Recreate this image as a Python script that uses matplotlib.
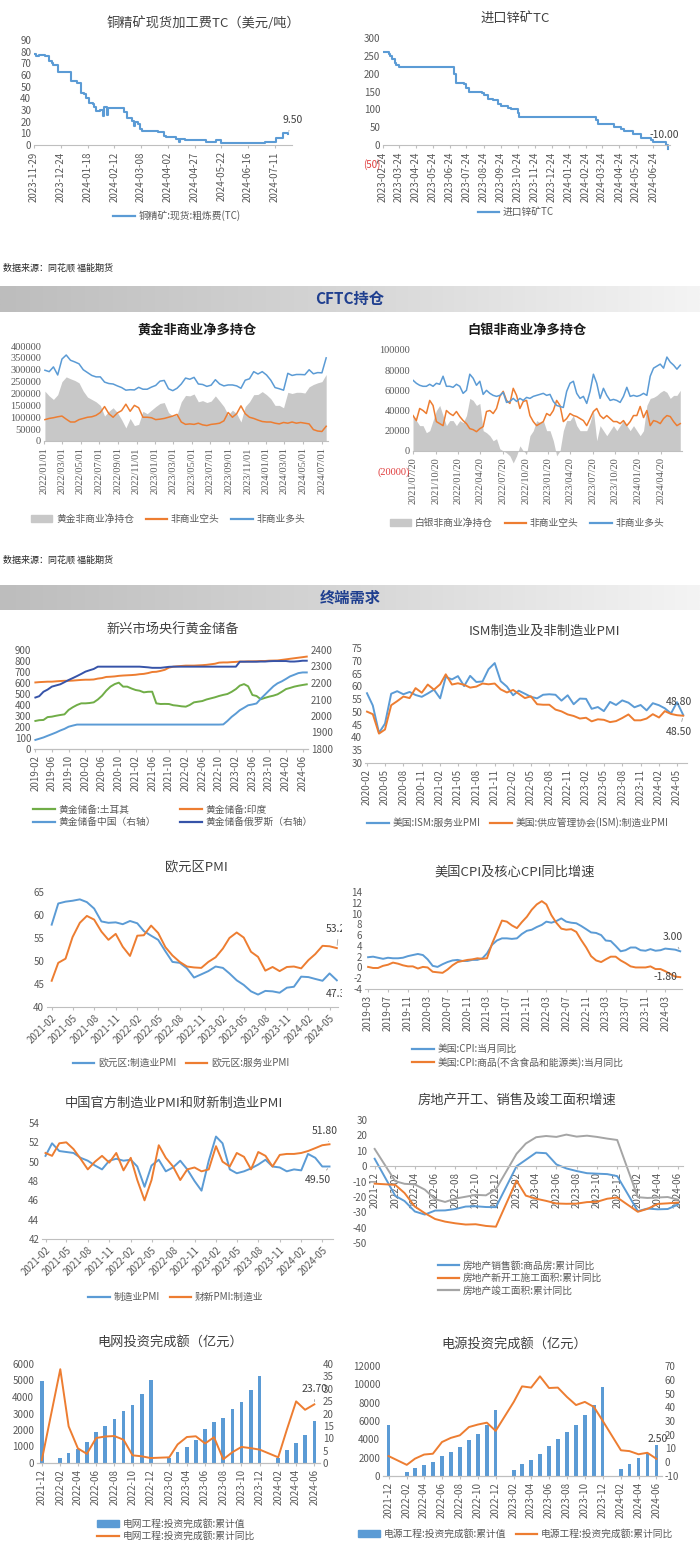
import matplotlib
matplotlib.use("Agg")
import matplotlib.pyplot as plt
from matplotlib.lines import Line2D
from matplotlib.patches import Patch
from matplotlib.colors import LinearSegmentedColormap
from matplotlib.transforms import Bbox
import numpy as np
import pandas as pd


# ── data ──────────────────────────────────────────────────────────────────────
# copper concentrate spot TC: days after start where the quote changed, new value
cu_start = "2023-11-29"
cu_days = [0, 2, 5, 10, 14, 17, 18, 22, 35, 40, 44, 47, 49, 51, 55, 56, 58, 62, 64, 65,
           68, 69, 84, 87, 92, 93, 94, 97, 99, 101, 116, 121, 123, 133, 135, 136, 141,
           161, 170, 175, 216, 226, 233, 237]
cu_tc = [78, 76, 77, 76, 72, 70, 69, 63, 55, 53, 45, 44, 40, 36, 35, 33, 29, 30, 25, 33,
         26, 32, 28, 23, 21, 16, 20, 18, 14, 12, 11, 8, 7, 5, 3, 5, 4,
         3, 4, 2, 3, 6, 10, 9.5]

# imported zinc concentrate TC
zn_start = "2023-02-24"
zn_days = [0, 10, 13, 17, 21, 24, 29, 128, 131, 146, 149, 154, 178, 182, 188, 198, 206,
           212, 224, 230, 242, 245, 383, 386, 416, 428, 434, 449, 464, 482, 485, 509, 513]
zn_tc = [260, 255, 250, 240, 230, 225, 220, 200, 175, 170, 160, 150, 145, 140, 130, 125, 115,
         110, 105, 100, 90, 80, 70, 60, 50, 45, 40, 30, 20, 15, 10, 0, -10]

# CFTC gold non-commercial positions (thousand contracts, ~2-week samples)
gold_long = [298, 292, 312, 278, 345, 362, 340, 333, 325, 300, 288, 276, 270, 270, 248, 242,
             240, 232, 225, 214, 216, 215, 226, 218, 218, 227, 234, 252, 255, 220, 212, 222,
             240, 265, 260, 268, 240, 238, 230, 235, 258, 240, 232, 236, 236, 232, 222, 256,
             262, 292, 282, 292, 278, 256, 225, 220, 214, 285, 276, 280, 280, 279, 300, 283,
             288, 287, 350]
gold_short = [90, 95, 98, 102, 105, 92, 80, 80, 90, 95, 100, 102, 108, 120, 145, 115, 100, 118,
              128, 155, 125, 150, 140, 100, 100, 98, 90, 92, 95, 100, 105, 112, 80, 70, 72, 70,
              75, 68, 65, 70, 72, 75, 85, 120, 100, 115, 148, 115, 100, 95, 88, 82, 80, 80, 75,
              72, 78, 75, 80, 75, 78, 75, 72, 48, 42, 40, 62]
gold_net = [210, 190, 175, 195, 250, 270, 262, 255, 245, 210, 185, 175, 165, 150, 105, 125,
            140, 120, 90, 55, 95, 65, 70, 125, 115, 130, 145, 158, 162, 120, 105, 110, 165,
            192, 190, 198, 165, 170, 162, 168, 190, 168, 145, 110, 130, 115, 80, 145, 165,
            195, 196, 208, 195, 178, 150, 150, 140, 205, 200, 205, 205, 202, 228, 238, 245,
            250, 280]

# CFTC silver non-commercial positions (thousand contracts)
silver_long = [70, 67, 65, 64, 64, 66, 64, 67, 66, 74, 64, 64, 63, 66, 64, 57, 60, 76, 72, 65,
               69, 56, 60, 57, 55, 54, 55, 58, 48, 49, 52, 49, 52, 50, 53, 52, 54, 55, 56, 57,
               55, 56, 49, 45, 44, 43, 59, 67, 69, 57, 52, 54, 47, 59, 76, 67, 52, 62, 55, 50,
               51, 50, 48, 54, 63, 54, 55, 54, 55, 57, 55, 74, 82, 84, 86, 82, 93, 88, 85, 81, 85]
silver_short = [35, 30, 42, 40, 37, 50, 45, 29, 27, 25, 40, 37, 35, 39, 34, 30, 27, 22, 21, 19,
                22, 24, 39, 40, 37, 42, 54, 59, 50, 47, 62, 55, 42, 49, 50, 35, 29, 25, 27, 29,
                37, 35, 40, 50, 45, 29, 32, 37, 35, 34, 32, 30, 25, 32, 39, 42, 35, 32, 35, 32,
                29, 29, 27, 30, 25, 29, 35, 35, 44, 33, 40, 25, 30, 29, 27, 32, 35, 34, 29, 25, 27]
silver_net = [35, 30, 25, 25, 18, 20, 30, 40, 45, 35, 25, 30, 30, 25, 30, 28, 35, 52, 50, 45,
              47, 20, 18, 15, 10, 12, 2, 0, -2, -5, -12, -5, 5, 0, -3, 15, 20, 30, 28, 30,
              20, 20, 10, -5, 0, 20, 30, 30, 35, 25, 20, 20, 20, 28, 40, 10, 25, 20, 15, 20,
              25, 20, 25, 30, 25, 20, 25, 20, 15, 20, 45, 52, 53, 55, 58, 60, 58, 52, 55, 55, 60]

# emerging market central bank gold reserves (tonnes), monthly 2019-02 .. 2024-07
em_turkey = [255, 262, 264, 290, 294, 302, 309, 315, 355, 380, 400,
             415, 415, 418, 424, 450, 485, 530, 567, 590, 603, 567, 567,
             550, 536, 530, 515, 520, 521, 415, 409, 410, 409, 398, 394,
             388, 385, 400, 424, 430, 436, 450, 460, 470, 482, 492, 500,
             520, 545, 576, 590, 570, 491, 482, 452, 465, 476, 485, 497,
             520, 545, 555, 567, 575, 582, 588]
em_india = [605, 608, 610, 612, 612, 615, 618, 620, 620, 622, 625,
            628, 630, 630, 632, 640, 645, 655, 657, 660, 665, 668, 670,
            672, 675, 680, 683, 690, 700, 702, 710, 720, 740, 748, 752,
            755, 758, 758, 758, 760, 762, 765, 770, 775, 785, 787, 787,
            790, 792, 795, 795, 797, 797, 798, 800, 800, 803, 804, 805,
            810, 815, 820, 825, 830, 835, 840]
em_china = [1855, 1862, 1870, 1880, 1890, 1900, 1912, 1922, 1935, 1942, 1948,
            1948, 1948, 1948, 1948, 1948, 1948, 1948, 1948, 1948, 1948, 1948, 1948,
            1948, 1948, 1948, 1948, 1948, 1948, 1948, 1948, 1948, 1948, 1948, 1948,
            1948, 1948, 1948, 1948, 1948, 1948, 1948, 1948, 1948, 1948, 1949, 1970,
            1995, 2015, 2035, 2050, 2065, 2070, 2076, 2105, 2130, 2155, 2180, 2198,
            2210, 2225, 2240, 2250, 2260, 2264, 2264]
em_russia = [2112, 2120, 2147, 2160, 2178, 2185, 2192, 2205, 2218, 2230, 2242,
             2255, 2269, 2277, 2285, 2299, 2299, 2299, 2299, 2299, 2299, 2299, 2299,
             2299, 2299, 2299, 2297, 2295, 2292, 2292, 2292, 2295, 2298, 2299, 2299,
             2299, 2299, 2299, 2299, 2299, 2299, 2299, 2299, 2299, 2299, 2299, 2299,
             2299, 2299, 2329, 2329, 2329, 2329, 2329, 2330, 2330, 2332, 2333, 2333,
             2333, 2333, 2330, 2330, 2332, 2335, 2335]

# US ISM PMI, monthly 2020-02 .. 2024-06
ism_services = [57.3, 52.5, 41.8, 45.4, 57.1, 58.1, 56.9, 57.8, 56.6, 55.9, 57.2,
                58.7, 55.3, 63.7, 62.7, 64.0, 60.1, 64.1, 61.7, 61.9, 66.7, 69.1, 62.0,
                59.9, 56.5, 58.3, 57.1, 55.9, 55.3, 56.7, 56.9, 56.7, 54.4, 56.5, 53.0,
                55.2, 55.1, 51.2, 51.9, 50.3, 53.9, 52.7, 54.5, 53.6, 51.8, 52.7, 50.6,
                53.4, 52.6, 51.4, 49.4, 53.8, 48.8]
ism_mfg = [50.1, 49.1, 41.5, 43.1, 52.6, 54.2, 56.0, 55.4, 59.3, 57.5, 60.7,
           58.7, 60.8, 64.7, 60.7, 61.2, 60.6, 59.5, 59.9, 61.1, 60.8, 61.1, 58.8,
           57.6, 58.6, 57.1, 55.4, 56.1, 53.0, 52.8, 52.8, 50.9, 50.2, 49.0, 48.4,
           47.4, 47.7, 46.3, 47.1, 46.9, 46.0, 46.4, 47.6, 49.0, 46.7, 46.7, 47.4,
           49.1, 47.8, 50.3, 49.2, 48.7, 48.5]

# euro area PMI, monthly 2021-02 .. 2024-06
eu_mfg = [57.9, 62.5, 62.9, 63.1, 63.4, 62.8, 61.4, 58.6, 58.3, 58.4, 58.0,
          58.7, 58.2, 56.5, 55.5, 54.6, 52.1, 49.8, 49.6, 48.4, 46.4, 47.1, 47.8,
          48.8, 48.5, 47.3, 45.8, 44.8, 43.4, 42.7, 43.5, 43.4, 43.1, 44.2, 44.4,
          46.6, 46.5, 46.1, 45.7, 47.3, 45.8]
eu_services = [45.7, 49.6, 50.5, 55.2, 58.3, 59.8, 59.0, 56.4, 54.6, 55.9, 53.1,
               51.1, 55.5, 55.6, 57.7, 56.1, 53.0, 51.2, 49.8, 48.8, 48.6, 48.5, 49.8,
               50.8, 52.7, 55.0, 56.2, 55.1, 52.0, 50.9, 47.9, 48.7, 47.8, 48.7, 48.8,
               48.4, 50.2, 51.5, 53.3, 53.2, 52.8]

# US CPI yoy, monthly 2019-03 .. 2024-06
us_cpi = [1.9, 2.0, 1.8, 1.6, 1.8, 1.7, 1.7, 1.8, 2.1, 2.3,
          2.5, 2.3, 1.5, 0.3, 0.1, 0.6, 1.0, 1.3, 1.4, 1.2, 1.2, 1.4,
          1.4, 1.7, 2.6, 4.2, 5.0, 5.4, 5.4, 5.3, 5.4, 6.2, 6.8, 7.0,
          7.5, 7.9, 8.5, 8.3, 8.6, 9.1, 8.5, 8.3, 8.2, 7.7, 7.1, 6.5,
          6.4, 6.0, 5.0, 4.9, 4.0, 3.0, 3.2, 3.7, 3.7, 3.2, 3.1, 3.4,
          3.1, 3.2, 3.5, 3.4, 3.3, 3.0]
us_core_goods = [0.1, -0.1, -0.1, 0.3, 0.5, 0.9, 0.7, 0.4, 0.2, 0.2,
                 -0.2, 0.1, 0.0, -0.8, -0.9, -1.0, -0.4, 0.4, 1.0, 1.2, 1.4, 1.5,
                 1.7, 1.6, 1.7, 4.4, 6.5, 8.7, 8.5, 7.8, 7.3, 8.4, 9.4, 10.7,
                 11.7, 12.3, 11.7, 9.7, 8.3, 7.2, 7.0, 7.1, 6.6, 5.1, 3.7, 2.1,
                 1.3, 1.0, 1.5, 2.0, 2.0, 1.3, 0.8, 0.2, 0.0, 0.0, 0.0, 0.2,
                 -0.3, -0.3, -0.7, -1.2, -1.7, -1.8]

# China official and Caixin manufacturing PMI, monthly 2021-02 .. 2024-06
cn_pmi = [50.6, 51.9, 51.1, 51.0, 50.9, 50.4, 50.1, 49.6, 49.2, 50.1, 50.3,
          50.1, 50.2, 49.5, 47.4, 49.6, 50.2, 49.0, 49.4, 50.1, 49.2, 48.0, 47.0,
          50.1, 52.6, 51.9, 49.2, 48.8, 49.0, 49.3, 49.7, 50.2, 49.5, 49.4, 49.0,
          49.2, 49.1, 50.8, 50.4, 49.5, 49.5]
caixin_pmi = [50.9, 50.6, 51.9, 52.0, 51.3, 50.3, 49.2, 50.0, 50.6, 49.9, 50.9,
              49.1, 50.4, 48.1, 46.0, 48.1, 51.7, 50.4, 49.5, 48.1, 49.2, 49.4, 49.0,
              49.2, 51.6, 50.0, 49.5, 50.9, 50.5, 49.2, 51.0, 50.6, 49.5, 50.7, 50.8,
              50.8, 50.9, 51.1, 51.4, 51.7, 51.8]

# cumulative monthly series (no January release)
cn_months = ["2021-12",
             "2022-02", "2022-03", "2022-04", "2022-05", "2022-06", "2022-07", "2022-08",
             "2022-09", "2022-10", "2022-11", "2022-12",
             "2023-02", "2023-03", "2023-04", "2023-05", "2023-06", "2023-07", "2023-08",
             "2023-09", "2023-10", "2023-11", "2023-12",
             "2024-02", "2024-03", "2024-04", "2024-05", "2024-06"]
re_sales = [4.8, -19.3, -22.7, -29.5, -31.5, -28.9, -28.8, -27.9, -26.3, -26.1, -26.6, -26.7,
            -0.1, 4.1, 8.8, 8.4, 1.1, -1.5, -3.2, -4.6, -4.9, -5.2, -6.5,
            -29.3, -27.6, -28.1, -27.9, -25.0]
re_starts = [-11.4, -12.2, -17.5, -26.3, -30.6, -34.4, -36.1, -37.2, -38.0, -37.8, -38.9, -39.4,
             -9.4, -19.2, -21.2, -22.6, -24.3, -24.5, -24.4, -23.4, -23.2, -21.2, -20.4,
             -29.7, -27.8, -24.6, -24.2, -23.7]
re_completed = [11.2, -9.8, -11.5, -11.9, -15.3, -21.5, -23.3, -21.1, -19.9, -18.7, -19.0, -15.0,
                8.0, 14.7, 18.8, 19.6, 19.0, 20.5, 19.2, 19.8, 19.0, 17.9, 17.0,
                -20.2, -20.7, -20.4, -20.1, -21.8]
grid_value = [4951, 310, 610, 870, 1270, 1900, 2250, 2680, 3150, 3500, 4210, 5012,
              290, 670, 1000, 1400, 2050, 2470, 2700, 3280, 3720, 4450, 5275,
              330, 790, 1240, 1710, 2540]
grid_yoy = [1.1, 37.9, 14.8, 5.9, 3.7, 10.1, 10.7, 10.9, 9.4, 3.1, 2.7, 2.0,
            2.3, 7.5, 10.5, 10.8, 7.9, 10.4, 1.5, 4.4, 6.5, 6.0, 5.4,
            2.3, 13.5, 24.9, 21.5, 23.7]
power_value = [5530, 450, 830, 1200, 1500, 2150, 2590, 3190, 3920, 4600, 5570, 7200,
               630, 1270, 1780, 2380, 3300, 4000, 4750, 5540, 6650, 7700, 9700,
               750, 1350, 1920, 2560, 3400]
power_yoy = [4.5, -1.9, 2.6, 5.6, 6.2, 14.7, 17.7, 19.6, 25.6, 27.4, 28.8, 22.8,
             44.0, 55.2, 54.3, 62.5, 54.0, 54.3, 47.5, 41.6, 43.9, 40.2, 30.1,
             8.7, 8.1, 5.8, 6.9, 2.5]


# ── figure set-up ─────────────────────────────────────────────────────────────
plt.rcParams["font.family"] = ["Noto Sans CJK SC", "DejaVu Sans"]
plt.rcParams["axes.unicode_minus"] = False

W, H = 700, 1554
fig = plt.figure(figsize=(W / 100, H / 100), dpi=100)

TXT = "#595959"
DARK = "#404040"
BLUE = "#5b9bd5"
ORANGE = "#ed7d31"
GRAY = "#a5a5a5"
GREEN = "#70ad47"
NAVY = "#3653a8"
SERIF = ["Liberation Serif", "DejaVu Serif"]


def px_axes(l, t, r, b):
    # axes placed by pixel box (left, top, right, bottom) measured from the top
    return fig.add_axes([l / W, 1 - b / H, (r - l) / W, (b - t) / H])


def style(ax, size=6.5):
    for s in ("top", "right", "left"):
        ax.spines[s].set_visible(False)
    ax.spines["bottom"].set_color("#bfbfbf")
    ax.spines["bottom"].set_linewidth(0.8)
    ax.tick_params(axis="y", length=0, labelsize=size, labelcolor=TXT, pad=2)
    ax.tick_params(axis="x", length=2.5, color="#bfbfbf", labelsize=size, labelcolor=TXT, pad=2)
    ax.set_facecolor("none")


def date_ticks(ax, ticks, fmt, rot=90):
    ax.set_xticks(ticks)
    if rot == 90:
        ax.set_xticklabels([t.strftime(fmt) for t in ticks], rotation=90, ha="center")
    else:
        ax.set_xticklabels([t.strftime(fmt) for t in ticks], rotation=rot, ha="right",
                           rotation_mode="anchor")


def serif_ticks(ax, size=7.5):
    for lab in ax.get_xticklabels() + ax.get_yticklabels():
        lab.set_family(SERIF)
        lab.set_fontsize(size)


def title(text, cx, cy, bold=False, color=DARK):
    fig.text(cx / W, 1 - cy / H, text, ha="center", va="center", fontsize=9.5,
             color=color, fontweight="bold" if bold else "normal")


def legend(handles, labels, cx, cy, ncol=1, **kw):
    opts = dict(loc="center", bbox_to_anchor=(cx / W, 1 - cy / H), ncol=ncol, frameon=False,
                fontsize=7, labelcolor=TXT, handlelength=2.2, handletextpad=0.4,
                columnspacing=1.2, borderpad=0, labelspacing=0.25)
    opts.update(kw)
    fig.legend(handles, labels, **opts)


def tag(ax, x, y, text, tx, ty, line=True, clip=None):
    t = ax.annotate(text, xy=(x, y), xytext=(tx, H - ty), textcoords="figure pixels",
                    ha="center", va="center", fontsize=7.5, color=DARK,
                    arrowprops=dict(arrowstyle="-", color="#a0a0a0", lw=0.6) if line else None)
    if clip is not None:
        t.set_clip_box(Bbox.from_extents(0, 0, clip, H))
        t.set_clip_on(True)


def banner(text, top, bottom):
    bax = px_axes(0, top, W, bottom)
    grad = np.linspace(0, 1, 256).reshape(1, -1)
    cmap = LinearSegmentedColormap.from_list("band", ["#bdbdbd", "#d6d6d6", "#f4f4f4"])
    bax.imshow(grad, aspect="auto", cmap=cmap, extent=[0, 1, 0, 1])
    bax.axis("off")
    bax.text(0.5, 0.5, text, ha="center", va="center", fontsize=11, fontweight="bold",
             color="#1f3f8f", transform=bax.transAxes)


def line_h(color):
    return Line2D([], [], color=color, lw=1.6)


# ── row 1: copper and zinc treatment charges ─────────────────────────────────
ax = px_axes(34, 40, 292, 145)
style(ax, 7)
cu_x = pd.Timestamp(cu_start) + pd.to_timedelta(cu_days, unit="D")
ax.plot(cu_x, cu_tc, drawstyle="steps-post", color=BLUE, lw=1.5)
ax.set_ylim(0, 90)
ax.set_yticks(range(0, 91, 10))
ax.set_xlim(pd.Timestamp(cu_start), pd.Timestamp(cu_start) + pd.Timedelta(days=241))
date_ticks(ax, pd.date_range(cu_start, periods=10, freq="25D"), "%Y-%m-%d")
tag(ax, cu_x[-1], cu_tc[-1], "9.50", 293, 120)
title("铜精矿现货加工费TC（美元/吨）", 203, 23)
legend([line_h(BLUE)], ["铜精矿:现货:粗炼费(TC)"], 177, 216)

ax = px_axes(383, 38, 670, 163)
style(ax, 7)
zn_x = pd.Timestamp(zn_start) + pd.to_timedelta(zn_days, unit="D")
ax.plot(zn_x, zn_tc, drawstyle="steps-post", color=BLUE, lw=1.5)
ax.set_ylim(-50, 300)
ax.set_yticks(range(-50, 301, 50))
ax.set_yticklabels(["(50)"] + [str(v) for v in range(0, 301, 50)])
ax.get_yticklabels()[0].set_color("#e03c3c")
ax.spines["bottom"].set_position(("data", 0))
ax.set_xlim(pd.Timestamp(zn_start), pd.Timestamp(zn_start) + pd.Timedelta(days=516))
date_ticks(ax, pd.date_range(zn_start, "2024-06-24", freq=pd.DateOffset(months=1)), "%Y-%m-%d")
tag(ax, zn_x[-1], zn_tc[-1], "-10.00", 664, 135)
title("进口锌矿TC", 515, 18)
legend([line_h(BLUE)], ["进口锌矿TC"], 516, 212)

fig.text(3 / W, 1 - 268 / H, "数据来源：同花顺 福能期货", ha="left", va="center", fontsize=6.5,
         color="#262626")
banner("CFTC持仓", 286, 312)


# ── row 2: CFTC gold and silver ──────────────────────────────────────────────
gold_x = pd.date_range("2022-01-04", "2024-07-16", periods=len(gold_long))
ax = px_axes(44, 346, 328, 441)
style(ax, 6.5)
ax.fill_between(gold_x, 0, np.array(gold_net) * 1000, color="#c8c8c8", lw=0)
ax.plot(gold_x, np.array(gold_short) * 1000, color=ORANGE, lw=1.1)
ax.plot(gold_x, np.array(gold_long) * 1000, color=BLUE, lw=1.1)
ax.set_ylim(0, 400000)
ax.set_yticks(range(0, 400001, 50000))
ax.set_xlim(pd.Timestamp("2022-01-01"), pd.Timestamp("2024-07-22"))
date_ticks(ax, pd.date_range("2022-01-01", "2024-07-01", freq="2MS"), "%Y/%m/%d")
serif_ticks(ax)
title("黄金非商业净多持仓", 197, 330, bold=True, color="#1a1a1a")
legend([Patch(color="#c8c8c8"), line_h(ORANGE), line_h(BLUE)],
       ["黄金非商业净持仓", "非商业空头", "非商业多头"], 168, 519, ncol=3)

silver_x = pd.date_range("2021-07-20", "2024-07-09", periods=len(silver_long))
ax = px_axes(413, 350, 682, 471)
style(ax, 6.5)
ax.fill_between(silver_x, 0, np.array(silver_net) * 1000, color="#c8c8c8", lw=0)
ax.plot(silver_x, np.array(silver_short) * 1000, color=ORANGE, lw=1.1)
ax.plot(silver_x, np.array(silver_long) * 1000, color=BLUE, lw=1.1)
ax.set_ylim(-20000, 100000)
ax.set_yticks(range(-20000, 100001, 20000))
ax.set_yticklabels(["(20000)"] + [str(v) for v in range(0, 100001, 20000)])
ax.get_yticklabels()[0].set_color("#e03c3c")
ax.spines["bottom"].set_position(("data", 0))
ax.set_xlim(pd.Timestamp("2021-07-20"), pd.Timestamp("2024-07-16"))
date_ticks(ax, pd.date_range("2021-07-20", "2024-04-20", freq=pd.DateOffset(months=3)), "%Y/%m/%d")
serif_ticks(ax)
title("白银非商业净多持仓", 527, 330, bold=True, color="#1a1a1a")
legend([Patch(color="#c8c8c8"), line_h(ORANGE), line_h(BLUE)],
       ["白银非商业净持仓", "非商业空头", "非商业多头"], 527, 523, ncol=3)

fig.text(3 / W, 1 - 560 / H, "数据来源：同花顺 福能期货", ha="left", va="center", fontsize=6.5,
         color="#262626")
banner("终端需求", 585, 610)


# ── row 3: EM central bank gold, ISM PMI ─────────────────────────────────────
em_x = pd.date_range("2019-02-01", periods=len(em_turkey), freq="MS")
ax = px_axes(34, 650, 308, 749)
style(ax, 7)
ax.plot(em_x, em_turkey, color=GREEN, lw=1.4)
ax.plot(em_x, em_india, color=ORANGE, lw=1.4)
ax.set_ylim(0, 900)
ax.set_yticks(range(0, 901, 100))
ax.set_xlim(pd.Timestamp("2019-01-22"), pd.Timestamp("2024-07-10"))
ax2 = ax.twinx()
style(ax2, 7)
ax2.plot(em_x, em_china, color=BLUE, lw=1.4)
ax2.plot(em_x, em_russia, color=NAVY, lw=1.4)
ax2.set_ylim(1800, 2400)
ax2.set_yticks(range(1800, 2401, 100))
ax2.set_xlim(ax.get_xlim())
date_ticks(ax, pd.date_range("2019-02-01", "2024-06-01", freq="4MS"), "%Y-%m")
title("新兴市场央行黄金储备", 173, 630)
legend([line_h(GREEN), line_h(BLUE), line_h(ORANGE), line_h(NAVY)],
       ["黄金储备:土耳其", "黄金储备中国（右轴）", "黄金储备:印度", "黄金储备俄罗斯（右轴）"],
       173, 816, ncol=2, columnspacing=2.5)

ism_x = pd.date_range("2020-02-01", periods=len(ism_mfg), freq="MS")
ax = px_axes(365, 648, 687, 763)
style(ax, 7)
ax.plot(ism_x, ism_services, color=BLUE, lw=1.4)
ax.plot(ism_x, ism_mfg, color=ORANGE, lw=1.4)
ax.set_ylim(30, 75)
ax.set_yticks(range(30, 76, 5))
ax.set_xlim(pd.Timestamp("2020-01-22"), pd.Timestamp("2024-06-20"))
date_ticks(ax, pd.date_range("2020-02-01", "2024-05-01", freq="3MS"), "%Y-%m")
tag(ax, ism_x[-1], ism_services[-1], "48.80", 679, 702, line=False)
tag(ax, ism_x[-1], ism_mfg[-1], "48.50", 679, 732)
title("ISM制造业及非制造业PMI", 544, 631)
legend([line_h(BLUE), line_h(ORANGE)], ["美国:ISM:服务业PMI", "美国:供应管理协会(ISM):制造业PMI"],
       518, 823, ncol=2, columnspacing=1.0)


# ── row 4: euro area PMI, US CPI ─────────────────────────────────────────────
eu_x = pd.date_range("2021-02-01", periods=len(eu_mfg), freq="MS")
ax = px_axes(47, 892, 338, 1007)
style(ax, 7)
ax.plot(eu_x, eu_mfg, color=BLUE, lw=1.4)
ax.plot(eu_x, eu_services, color=ORANGE, lw=1.4)
ax.set_ylim(40, 65)
ax.set_yticks(range(40, 66, 5))
ax.set_xlim(pd.Timestamp("2021-01-12"), pd.Timestamp("2024-06-06"))
date_ticks(ax, pd.date_range("2021-02-01", "2024-05-01", freq="3MS"), "%Y-%m", rot=45)
tag(ax, eu_x[-1], eu_services[-1], "53.20", 339, 929, clip=342)
tag(ax, eu_x[-1], eu_mfg[-1], "47.30", 339, 994, line=False, clip=342)
title("欧元区PMI", 196, 867)
legend([line_h(BLUE), line_h(ORANGE)], ["欧元区:制造业PMI", "欧元区:服务业PMI"], 181, 1063,
       ncol=2, columnspacing=1.0)

cpi_x = pd.date_range("2019-03-01", periods=len(us_cpi), freq="MS")
ax = px_axes(365, 892, 682, 989)
style(ax, 7)
ax.plot(cpi_x, us_cpi, color=BLUE, lw=1.4)
ax.plot(cpi_x, us_core_goods, color=ORANGE, lw=1.4)
ax.set_ylim(-4, 14)
ax.set_yticks(range(-4, 15, 2))
ax.set_xlim(pd.Timestamp("2019-02-10"), pd.Timestamp("2024-06-12"))
date_ticks(ax, pd.date_range("2019-03-01", "2024-03-01", freq="4MS"), "%Y-%m")
tag(ax, cpi_x[-1], us_cpi[-1], "3.00", 673, 937)
tag(ax, cpi_x[-1], us_core_goods[-1], "-1.80", 665, 977, line=False)
title("美国CPI及核心CPI同比增速", 515, 872)
legend([line_h(BLUE), line_h(ORANGE)], ["美国:CPI:当月同比", "美国:CPI:商品(不含食品和能源类):当月同比"],
       518, 1056, ncol=1, alignment="left")


# ── row 5: China PMI, real estate ────────────────────────────────────────────
cn_x = pd.date_range("2021-02-01", periods=len(cn_pmi), freq="MS")
ax = px_axes(42, 1123, 333, 1239)
style(ax, 7)
ax.plot(cn_x, cn_pmi, color=BLUE, lw=1.4)
ax.plot(cn_x, caixin_pmi, color=ORANGE, lw=1.4)
ax.set_ylim(42, 54)
ax.set_yticks(range(42, 55, 2))
ax.set_xlim(pd.Timestamp("2021-01-17"), pd.Timestamp("2024-06-16"))
date_ticks(ax, pd.date_range("2021-02-01", "2024-05-01", freq="3MS"), "%Y-%m", rot=45)
tag(ax, cn_x[-1], caixin_pmi[-1], "51.80", 325, 1131)
tag(ax, cn_x[-1], cn_pmi[-1], "49.50", 318, 1180)
title("中国官方制造业PMI和财新制造业PMI", 174, 1103)
legend([line_h(BLUE), line_h(ORANGE)], ["制造业PMI", "财新PMI:制造业"], 176, 1297, ncol=2,
       columnspacing=1.0)

m_x = pd.to_datetime(cn_months)
ax = px_axes(370, 1120, 683, 1243)
style(ax, 7)
ax.plot(m_x, re_sales, color=BLUE, lw=1.4)
ax.plot(m_x, re_starts, color=ORANGE, lw=1.4)
ax.plot(m_x, re_completed, color=GRAY, lw=1.4)
ax.set_ylim(-50, 30)
ax.set_yticks(range(-50, 31, 10))
ax.spines["bottom"].set_position(("data", 0))
ax.set_xlim(pd.Timestamp("2021-11-17"), pd.Timestamp("2024-06-16"))
date_ticks(ax, pd.date_range("2021-12-01", "2024-06-01", freq="2MS"), "%Y-%m")
title("房地产开工、销售及竣工面积增速", 517, 1100)
legend([line_h(BLUE), line_h(ORANGE), line_h(GRAY)],
       ["房地产销售额:商品房:累计同比", "房地产新开工施工面积:累计同比", "房地产竣工面积:累计同比"],
       520, 1278, ncol=1, alignment="left")


# ── row 6: grid and power source investment ──────────────────────────────────
ax = px_axes(37, 1364, 320, 1463)
style(ax, 7)
ax.bar(m_x, grid_value, width=12, color=BLUE)
ax.set_ylim(0, 6000)
ax.set_yticks(range(0, 6001, 1000))
ax.set_xlim(pd.Timestamp("2021-11-15"), pd.Timestamp("2024-06-20"))
ax2 = ax.twinx()
style(ax2, 7)
ax2.plot(m_x, grid_yoy, color=ORANGE, lw=1.4)
ax2.set_ylim(0, 40)
ax2.set_yticks(range(0, 41, 5))
ax2.set_xlim(ax.get_xlim())
date_ticks(ax, pd.date_range("2021-12-01", "2024-06-01", freq="2MS"), "%Y-%m")
tag(ax2, m_x[-1], grid_yoy[-1], "23.70", 315, 1389)
title("电网投资完成额（亿元）", 170, 1343)
legend([Patch(color=BLUE), line_h(ORANGE)],
       ["电网工程:投资完成额:累计值", "电网工程:投资完成额:累计同比"], 176, 1530, ncol=1,
       alignment="left")

ax = px_axes(383, 1366, 662, 1476)
style(ax, 7)
ax.bar(m_x, power_value, width=12, color=BLUE)
ax.set_ylim(0, 12000)
ax.set_yticks(range(0, 12001, 2000))
ax.set_xlim(pd.Timestamp("2021-11-12"), pd.Timestamp("2024-06-20"))
ax2 = ax.twinx()
style(ax2, 7)
ax2.plot(m_x, power_yoy, color=ORANGE, lw=1.4)
ax2.set_ylim(-10, 70)
ax2.set_yticks(range(-10, 71, 10))
ax2.set_xlim(ax.get_xlim())
date_ticks(ax, pd.date_range("2021-12-01", "2024-06-01", freq="2MS"), "%Y-%m")
tag(ax2, m_x[-1], power_yoy[-1], "2.50", 658, 1439)
title("电源投资完成额（亿元）", 514, 1345)
legend([Patch(color=BLUE), line_h(ORANGE)],
       ["电源工程:投资完成额:累计值", "电源工程:投资完成额:累计同比"], 516, 1534, ncol=2,
       columnspacing=1.0)

fig.savefig("out.png", dpi=100)
